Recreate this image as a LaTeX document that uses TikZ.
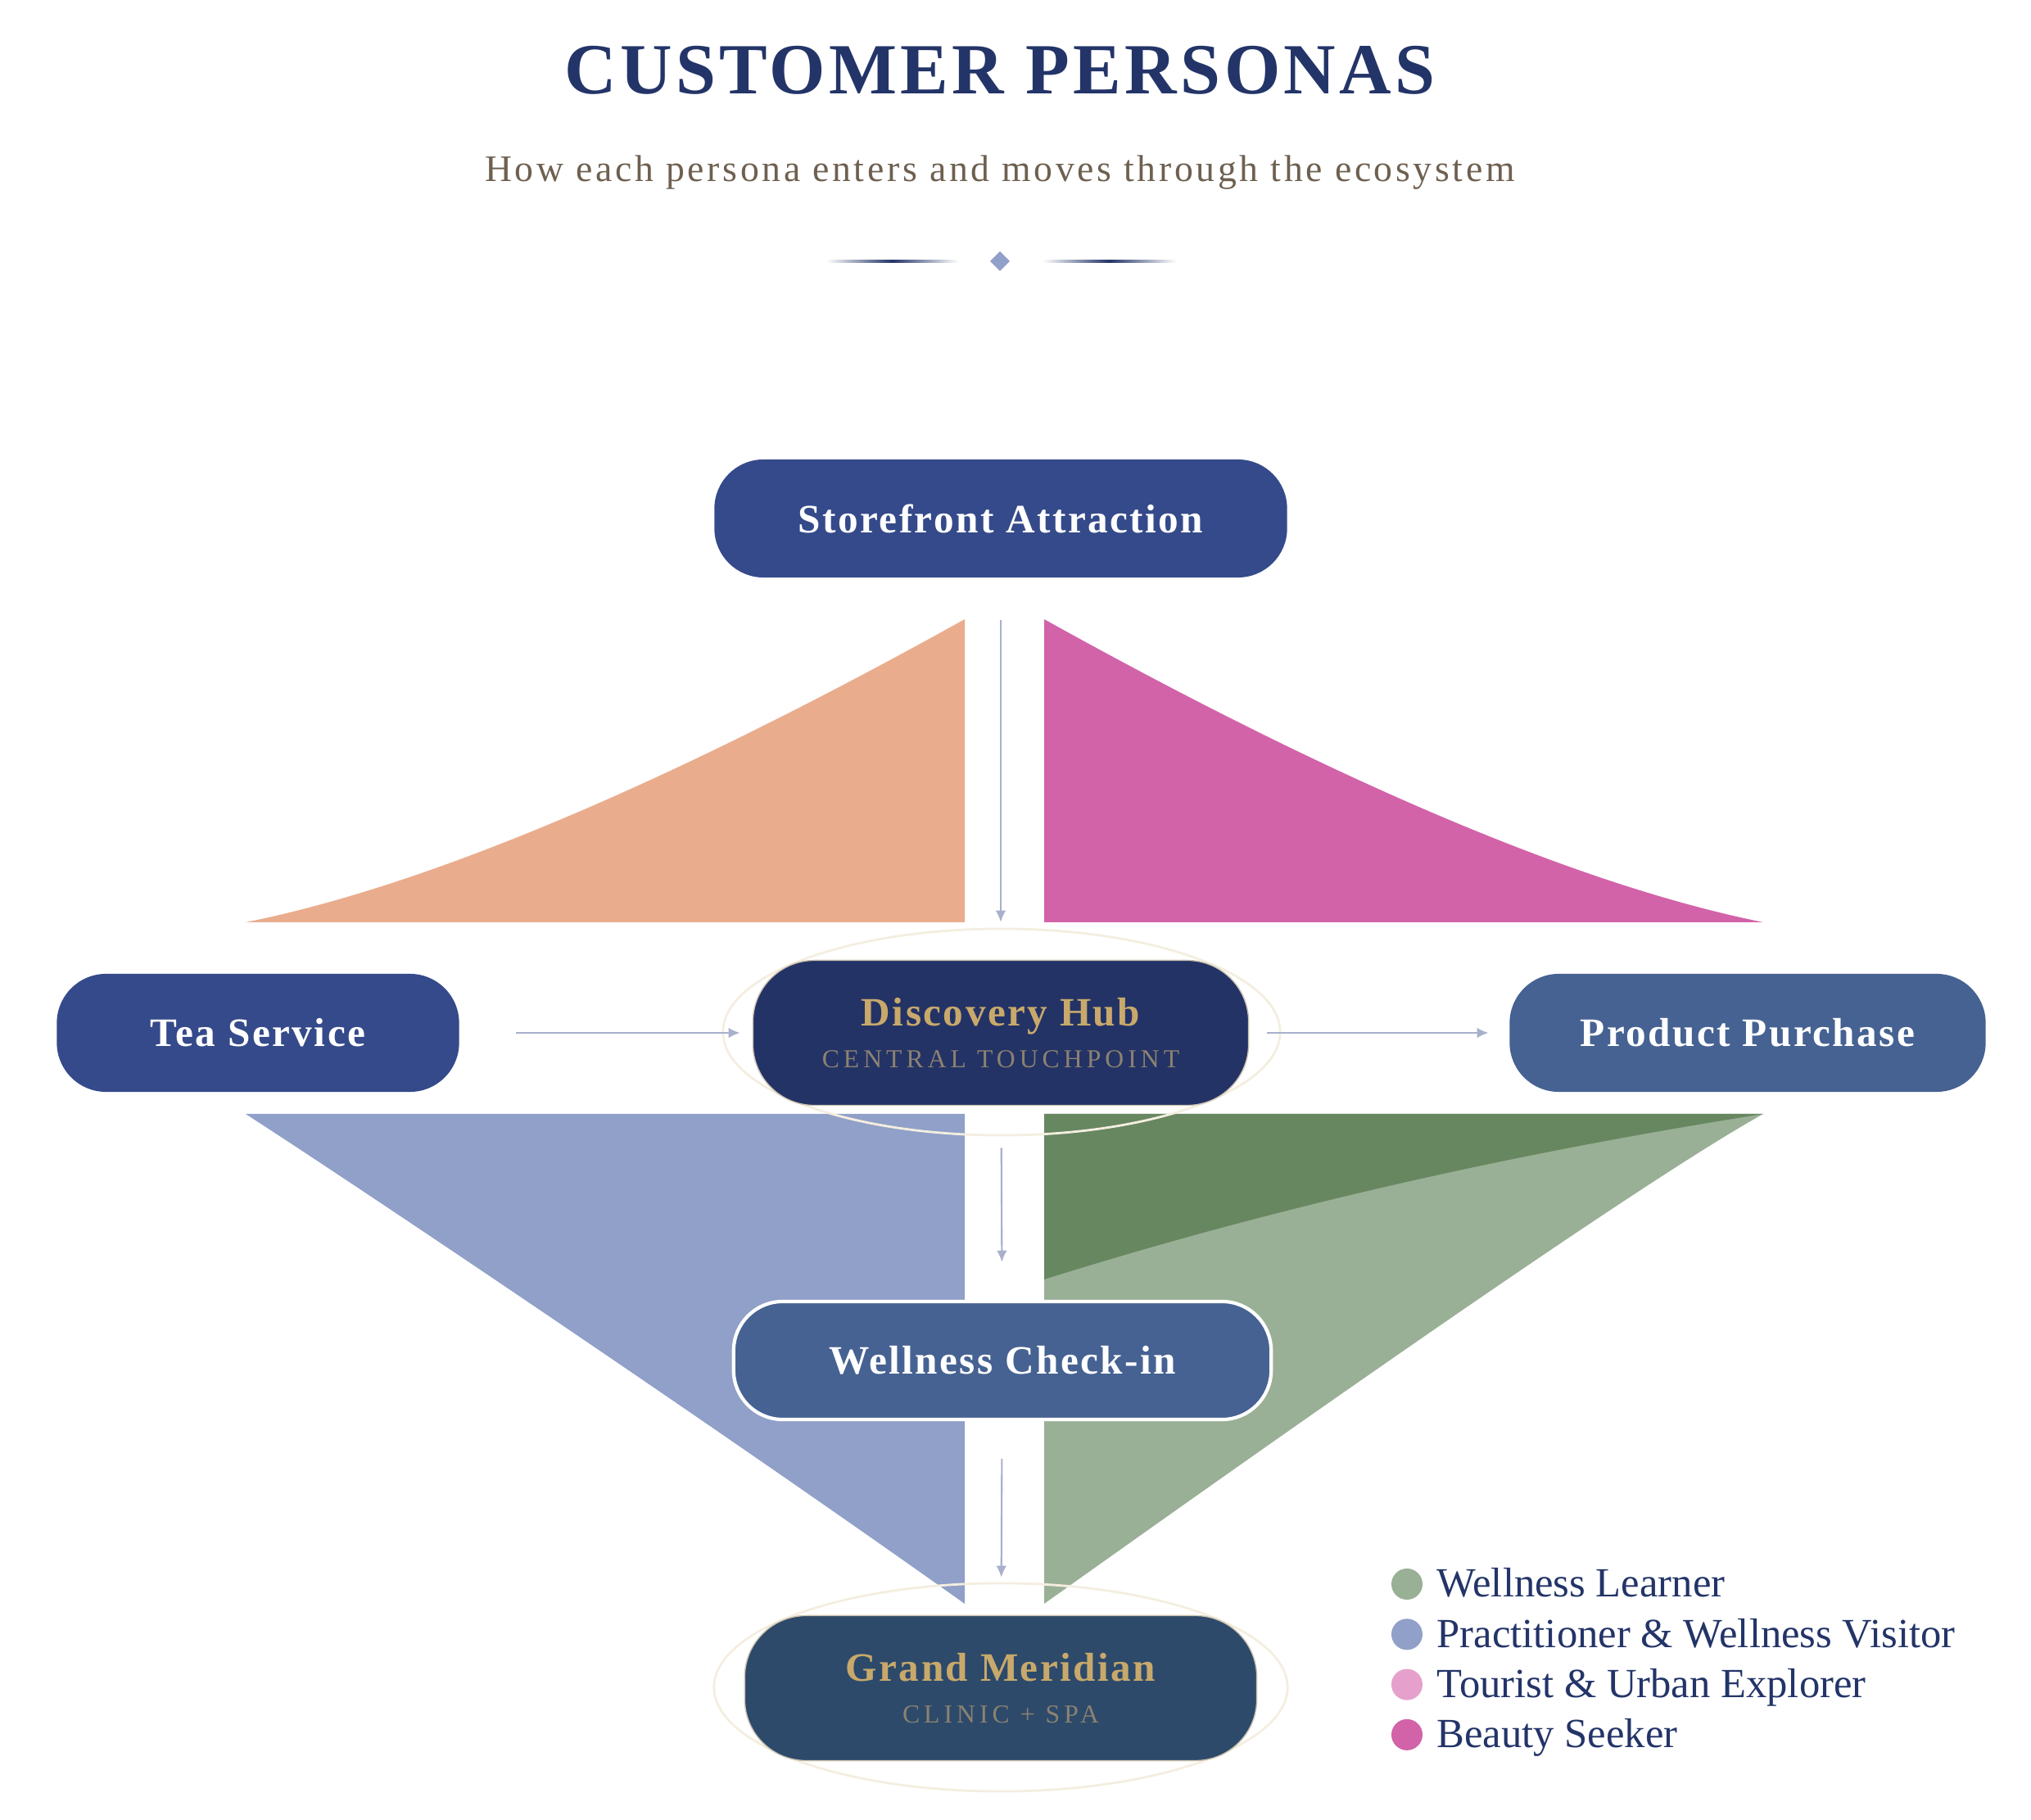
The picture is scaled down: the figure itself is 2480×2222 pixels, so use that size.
\documentclass[tikz,border=0pt]{standalone}
\usepackage{fontspec}
\usepackage{tikz}
\usetikzlibrary{arrows.meta}
\setmainfont{Liberation Serif}
\newfontfamily\titlefont[LetterSpace=5]{Liberation Serif}
\newfontfamily\subfont[LetterSpace=8]{Liberation Serif}
\newfontfamily\stopfont[LetterSpace=5]{Liberation Serif}
\newfontfamily\capsfont[LetterSpace=16]{Liberation Serif}
\definecolor{pnavy}{RGB}{35, 52, 104}
\definecolor{pbrown}{RGB}{110, 96, 80}
\definecolor{pstore}{RGB}{53, 74, 138}
\definecolor{phub}{RGB}{36, 51, 102}
\definecolor{psteel}{RGB}{70, 98, 146}
\definecolor{pclinic}{RGB}{45, 74, 107}
\definecolor{pgold}{RGB}{200, 169, 107}
\definecolor{pcaps}{RGB}{140, 130, 112}
\definecolor{ppeach}{RGB}{233, 173, 142}
\definecolor{pmagenta}{RGB}{210, 99, 169}
\definecolor{plavender}{RGB}{144, 160, 200}
\definecolor{psage}{RGB}{154, 176, 150}
\definecolor{pmoss}{RGB}{103, 135, 96}
\definecolor{prose}{RGB}{229, 160, 203}
\definecolor{parrow}{RGB}{168, 176, 204}
\definecolor{pring}{RGB}{244, 238, 224}
\definecolor{pedge}{RGB}{205, 196, 178}

\begin{document}
\begin{tikzpicture}[x=0.01cm, y=-0.01cm,
  stop/.style={rounded corners=0.6cm, minimum height=1.44cm, inner sep=0pt,
    text=white, font=\stopfont\bfseries\fontsize{14}{16}\selectfont},
  hubstop/.style={rounded corners=0.75cm, minimum height=1.77cm, inner sep=0pt,
    draw=pedge, line width=0.4pt, text=pgold, align=center,
    font=\stopfont\bfseries\fontsize{14}{16}\selectfont},
  flow/.style={draw=parrow, line width=0.6pt, -{Latex[length=4pt,width=3.6pt]}},
  ring/.style={draw=pring, line width=0.8pt},
  legend/.style={text=pnavy, inner sep=0pt, font=\fontsize{14.4}{16}\selectfont}]
\useasboundingbox (0,0) rectangle (2480,2222);

% Title
\node[text=pnavy, anchor=base, font=\titlefont\bfseries\fontsize{25}{30}\selectfont] (title) at (1221,115) {CUSTOMER PERSONAS};
\node[text=pbrown, anchor=base, font=\subfont\fontsize{13}{15}\selectfont] (subtitle) at (1221,222) {How each persona enters and moves through the ecosystem};

% Divider
\shade[left color=white, right color=white, middle color=pnavy] (1009,317.5) rectangle (1170,320.5);
\shade[left color=white, right color=white, middle color=pnavy] (1273,317.5) rectangle (1436,320.5);
\fill[plavender] (1221,307) -- (1233,319) -- (1221,331) -- (1209,319) -- cycle;

% Persona flows, upper half
\fill[ppeach] (300,1126) .. controls (519,1082) and (813,959) .. (1178,756) -- (1178,1126) -- cycle;
\fill[pmagenta] (2153,1126) .. controls (1934,1082) and (1640,959) .. (1275,756) -- (1275,1126) -- cycle;

% Persona flows, lower half
\fill[plavender] (300,1360) -- (1178,1360) -- (1178,1958) .. controls (900,1760) and (470,1470) .. (300,1360) -- cycle;
\fill[psage] (1275,1360) -- (2153,1360) .. controls (2000,1445) and (1560,1755) .. (1275,1958) -- cycle;
\fill[pmoss] (1275,1360) -- (2153,1360) .. controls (1900,1400) and (1600,1460) .. (1275,1562) -- cycle;

% Rings round the two key stops
\draw[ring] (1223,1260) ellipse [x radius=3.4cm, y radius=1.26cm];
\draw[ring] (1222,2060) ellipse [x radius=3.5cm, y radius=1.27cm];

% Stops
\node[stop, fill=pstore, minimum width=6.99cm] (store) at (1222,633) {Storefront Attraction};
\node[stop, fill=pstore, minimum width=4.91cm] (tea) at (315,1261) {Tea Service};
\node[stop, fill=psteel, minimum width=5.81cm] (product) at (2134,1261) {Product Purchase};
\node[hubstop, fill=phub, minimum width=6.05cm] (hub) at (1222,1261)
  {Discovery Hub\\[-1.5pt]{\color{pcaps}\capsfont\mdseries\fontsize{9}{10}\selectfont CENTRAL TOUCHPOINT}};
\node[stop, fill=psteel, draw=white, line width=1.2pt, minimum width=6.56cm] (checkin) at (1224,1661) {Wellness Check-in};
\node[hubstop, fill=pclinic, minimum width=6.25cm] (clinic) at (1222,2061)
  {Grand Meridian\\[-1.5pt]{\color{pcaps}\capsfont\mdseries\fontsize{9}{10}\selectfont CLINIC + SPA}};

% Connectors
\draw[flow, shorten <=0.51cm, shorten >=0.46cm] (store) -- (hub);
\draw[flow, shorten <=0.69cm, shorten >=0.15cm] (tea) -- (hub);
\draw[flow, shorten <=0.22cm, shorten >=0.25cm] (hub) -- (product);
\draw[flow, shorten <=0.51cm, shorten >=0.46cm] (hub) -- (checkin);
\draw[flow, shorten <=0.46cm, shorten >=0.46cm] (checkin) -- (clinic);

% Legend
\foreach \c/\t [count=\i from 0] in {psage/Wellness Learner, plavender/Practitioner \& Wellness Visitor, prose/Tourist \& Urban Explorer, pmagenta/Beauty Seeker} {
  \node[circle, fill=\c, inner sep=0pt, minimum size=0.38cm] (dot\i) at (1718,1934+61.3*\i) {};
  \node[legend, anchor=base west] (leg\i) at (1754,1950+61.3*\i) {\t};
}
\end{tikzpicture}
\end{document}
